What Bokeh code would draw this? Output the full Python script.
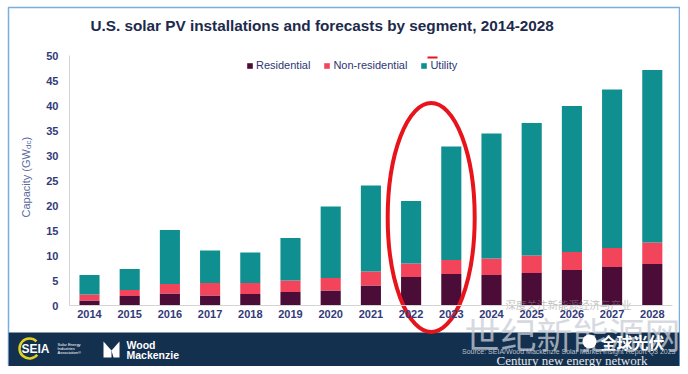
import math
from bokeh.plotting import figure
from bokeh.models import Range1d, FixedTicker, Legend, LegendItem, BoxAnnotation, ColumnDataSource
from bokeh.core.properties import value
from bokeh.embed import file_html
from bokeh.resources import INLINE

# ---------------- data ----------------
years = ["2014", "2015", "2016", "2017", "2018", "2019", "2020", "2021",
         "2022", "2023", "2024", "2025", "2026", "2027", "2028"]
residential = [1.0, 1.9, 2.4, 2.0, 2.3, 2.7, 3.0, 4.0, 5.7, 6.3, 6.1, 6.5, 7.1, 7.7, 8.3]
non_residential = [1.2, 1.2, 1.9, 2.5, 2.2, 2.3, 2.5, 2.8, 2.7, 2.8, 3.3, 3.5, 3.6, 3.8, 4.3]
utility = [3.9, 4.2, 10.8, 6.5, 6.1, 8.5, 14.3, 17.2, 12.5, 22.7, 25.0, 26.5, 29.2, 31.7, 34.5]
series_names = ["Residential", "Non-residential", "Utility"]
y_ticks = [0, 5, 10, 15, 20, 25, 30, 35, 40, 45, 50]
highlight = ["2022", "2023"]

title_text = "U.S. solar PV installations and forecasts by segment, 2014-2028"
source_text = "Source: SEIA/Wood Mackenzie Solar Market Insight Report Q3 2023"

# ---------------- styles ----------------
COLORS = ["#4b0c37", "#f2455c", "#0f8f90"]
NAVY_TXT = "#343a78"
FONT = "Liberation Sans"

W, H = 680, 366
FL, FT, FR, FB = 8, 7, 679, 366   # frame edges in figure pixels
# pixel helpers for decorations
PX, X0 = 40.2, 89.0   # px per category, x of first bar center
PY, Y0 = 5.0, 305.0   # px per GW, y of zero line


def dx(px):
    return (px - X0) / PX


def dy(py):
    return (Y0 - py) / PY


p = figure(width=W, height=H, output_backend="svg", toolbar_location=None,
           title=None, min_border_left=FL, min_border_top=FT,
           min_border_right=W - FR, min_border_bottom=H - FB,
           x_range=Range1d(dx(FL), dx(FR)), y_range=Range1d(dy(FB), dy(FT)))
p.background_fill_color = "white"
p.border_fill_color = "white"
p.outline_line_color = "#7aaee0"
p.outline_line_width = 1.5
p.xgrid.visible = False
p.ygrid.visible = False

# footer band
band = BoxAnnotation(top=dy(332), fill_color="#13304f", fill_alpha=1.0,
                     line_alpha=0, level="underlay")
p.add_layout(band)

# ---------------- bars ----------------
src = ColumnDataSource(dict(x=list(range(len(years))), Residential=residential,
                            **{"Non-residential": non_residential}, Utility=utility))
rs = p.vbar_stack(series_names, x="x", width=0.5, color=COLORS, line_color=None, source=src)

# ---------------- axes ----------------
xa = p.xaxis[0]
xa.fixed_location = 0
xa.bounds = (-0.5, len(years) - 0.5)
xa.ticker = FixedTicker(ticks=list(range(len(years))))
xa.major_label_overrides = {i: y for i, y in enumerate(years)}
ya = p.yaxis[0]
ya.fixed_location = -0.5
ya.bounds = (y_ticks[0], y_ticks[-1])
ya.ticker = FixedTicker(ticks=y_ticks)
for ax in (xa, ya):
    ax.axis_line_color = "#d4d4d4"
    ax.axis_line_width = 1
    ax.major_tick_line_color = None
    ax.minor_tick_line_color = None
    ax.major_tick_out = 0
    ax.major_tick_in = 0
    ax.major_label_text_font = FONT
    ax.major_label_text_font_size = "11px"
    ax.major_label_text_font_style = "bold"
    ax.major_label_text_color = NAVY_TXT
xa.major_label_standoff = 4
ya.major_label_standoff = 11

# y axis title with subscript
AX_COL = "#5a6aa0"
p.text(x=[dx(25)], y=[dy(217)], text=["Capacity (GW"], angle=math.pi / 2,
       text_font=value(FONT), text_font_size="11px", text_color=AX_COL,
       text_align="left", text_baseline="middle")
p.text(x=[dx(28)], y=[dy(148.5)], text=["dc"], angle=math.pi / 2,
       text_font=value(FONT), text_font_size="8px", text_color=AX_COL,
       text_align="left", text_baseline="middle")
p.text(x=[dx(25)], y=[dy(140)], text=[")"], angle=math.pi / 2,
       text_font=value(FONT), text_font_size="11px", text_color=AX_COL,
       text_align="left", text_baseline="middle")

# title
p.text(x=[dx(90)], y=[dy(25)], text=[title_text], text_font=value(FONT),
       text_font_size="15.3px", text_font_style="bold", text_color="#1d2a4c",
       text_align="left", text_baseline="middle")

# legend (location = bottom-left corner, screen px from frame bottom-left)
legend = Legend(items=[LegendItem(label=n, renderers=[r]) for n, r in zip(series_names, rs)],
                location=(246 - FL, FB - 71), orientation="horizontal",
                glyph_width=7, glyph_height=7, label_standoff=3, spacing=13,
                padding=0, margin=0, border_line_alpha=0, background_fill_alpha=0,
                label_text_font=FONT, label_text_font_size="11px",
                label_text_color="#2e3675", label_height=12)
p.add_layout(legend)

# red highlight ellipse around highlighted years
cx = years.index(highlight[0]) + 0.5
p.ellipse(x=[cx], y=[dy(217)], width=[87 / PX], height=[229 / PY],
          fill_color=None, line_color="#e8141c", line_width=4)
p.segment(x0=[dx(427)], y0=[dy(57)], x1=[dx(437)], y1=[dy(57)],
          line_color="#e8141c", line_width=2)

# faint watermark text above axis
p.text(x=[dx(505)], y=[dy(304)], text=["深度关注新能源经济与产业"],
       text_font=value("Noto Sans CJK SC"), text_font_size="10.5px",
       text_color="#8a8a8a", text_alpha=0.55, text_baseline="middle")

# ---------------- footer ----------------
p.arc(x=[dx(29)], y=[dy(348)], radius=10, radius_units="screen",
      start_angle=0.8, end_angle=5.6, direction="anticlock",
      line_color="#e3cf1f", line_width=2.5)
p.text(x=[dx(21)], y=[dy(348)], text=["SEIA"], text_font=value(FONT),
       text_font_size="12px", text_font_style="bold", text_color="white",
       text_baseline="middle")
p.text(x=[dx(57), dx(57), dx(57)], y=[dy(344), dy(348), dy(352)],
       text=["Solar Energy", "Industries", "Association\u00ae"], text_font=value(FONT),
       text_font_size="4px", text_color="white", text_baseline="middle")
wm_xs = [[dx(103), dx(111), dx(111), dx(103)], [dx(111), dx(119), dx(119), dx(113)]]
wm_ys = [[dy(341), dy(350), dy(357), dy(357)], [dy(350), dy(341), dy(357), dy(357)]]
p.patches(xs=wm_xs, ys=wm_ys, fill_color="white", line_color=None)
p.text(x=[dx(126), dx(126)], y=[dy(344), dy(354)], text=["Wood", "Mackenzie"],
       text_font=value(FONT), text_font_size="10.5px", text_font_style="bold",
       text_color="white", text_baseline="middle")

p.text(x=[dx(464)], y=[dy(332)], text=["世纪新能源网"],
       text_font=value("Noto Sans CJK SC"), text_font_size="36px",
       text_color="#c9cdd6", text_alpha=0.75, text_baseline="middle")
p.circle(x=[dx(589)], y=[dy(341)], radius=7, radius_units="screen",
         fill_color="white", line_color=None)
p.text(x=[dx(600)], y=[dy(341)], text=["全球光伏"],
       text_font=value("Noto Sans CJK SC"), text_font_size="16px",
       text_font_style="bold", text_color="white", text_baseline="middle")
p.text(x=[dx(675)], y=[dy(351)], text=[source_text], text_font=value(FONT),
       text_font_size="7px", text_color="#b9c0cc", text_baseline="middle",
       text_align="right")
p.text(x=[dx(496)], y=[dy(359.5)], text=["Century new energy network"],
       text_font=value("Liberation Serif"), text_font_size="13px",
       text_color="#e6e6e6", text_baseline="middle")

open("out.html", "w").write(file_html(p, INLINE))
